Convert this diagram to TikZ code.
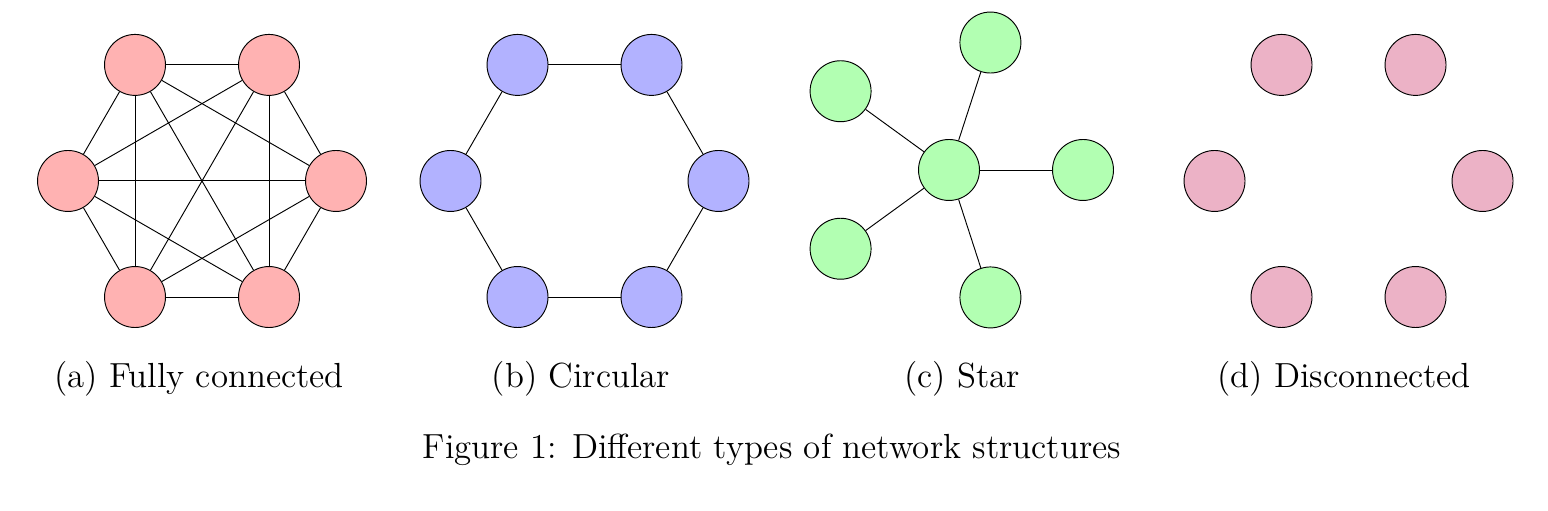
\documentclass[tikz,border=0pt]{standalone}
\usepackage{tikz}
\usetikzlibrary{positioning}
\tikzset{
    %Define style for graph vertices
    vertex/.style={
           circle,
           draw=black,
           minimum size=0.91cm,
           inner sep=0pt},
    %Define fill per network type
    fullv/.style={vertex, fill=red!30},
    ringv/.style={vertex, fill=blue!30},
    starv/.style={vertex, fill=green!30},
    lonev/.style={vertex, fill=purple!30},
    % Define style for links
    link/.style={draw=black},
    % Define style for captions
    caption/.style={anchor=base, font=\fontsize{14.8}{17}\selectfont}
}
\begin{document}
\begin{tikzpicture}
    \useasboundingbox (0,0) rectangle (23.104,-7.612);
    \coordinate (A) at (3.015,-2.701);
    \coordinate (B) at (8.724,-2.701);
    \coordinate (C) at (14.164,-2.537);
    \coordinate (D) at (20.127,-2.701);

    % (a) fully connected
    \node [fullv] (a1) at ([shift={(120:2)}]A) {};
    \node [fullv] (a2) at ([shift={(60:2)}]A) {};
    \node [fullv] (a3) at ([shift={(0:2)}]A) {};
    \node [fullv] (a4) at ([shift={(300:2)}]A) {};
    \node [fullv] (a5) at ([shift={(240:2)}]A) {};
    \node [fullv] (a6) at ([shift={(180:2)}]A) {};
    \path (a1) edge[link] (a2) edge[link] (a3) edge[link] (a4) edge[link] (a5) edge[link] (a6);
    \path (a2) edge[link] (a3) edge[link] (a4) edge[link] (a5) edge[link] (a6);
    \path (a3) edge[link] (a4) edge[link] (a5) edge[link] (a6);
    \path (a4) edge[link] (a5) edge[link] (a6);
    \path (a5) edge[link] (a6);

    % (b) circular
    \node [ringv] (b1) at ([shift={(120:2)}]B) {};
    \node [ringv] (b2) at ([shift={(60:2)}]B) {};
    \node [ringv] (b3) at ([shift={(0:2)}]B) {};
    \node [ringv] (b4) at ([shift={(300:2)}]B) {};
    \node [ringv] (b5) at ([shift={(240:2)}]B) {};
    \node [ringv] (b6) at ([shift={(180:2)}]B) {};
    \path (b1) edge[link] (b2);
    \path (b2) edge[link] (b3);
    \path (b3) edge[link] (b4);
    \path (b4) edge[link] (b5);
    \path (b5) edge[link] (b6);
    \path (b6) edge[link] (b1);

    % (c) star
    \node [starv] (hub) at (C) {};
    \node [starv] (c1) at ([shift={(0:2)}]C) {};
    \node [starv] (c2) at ([shift={(72:2)}]C) {};
    \node [starv] (c3) at ([shift={(144:2)}]C) {};
    \node [starv] (c4) at ([shift={(216:2)}]C) {};
    \node [starv] (c5) at ([shift={(288:2)}]C) {};
    \path (hub) edge[link] (c1) edge[link] (c2) edge[link] (c3) edge[link] (c4) edge[link] (c5);

    % (d) disconnected
    \node [lonev] (d1) at ([shift={(120:2)}]D) {};
    \node [lonev] (d2) at ([shift={(60:2)}]D) {};
    \node [lonev] (d3) at ([shift={(0:2)}]D) {};
    \node [lonev] (d4) at ([shift={(300:2)}]D) {};
    \node [lonev] (d5) at ([shift={(240:2)}]D) {};
    \node [lonev] (d6) at ([shift={(180:2)}]D) {};

    % captions
    \node [caption] (capa) at (2.97,-5.79) {(a) Fully connected};
    \node [caption] (capb) at (8.67,-5.79) {(b) Circular};
    \node [caption] (capc) at (14.36,-5.79) {(c) Star};
    \node [caption] (capd) at (20.06,-5.79) {(d) Disconnected};
    \node [caption] (fig) at (11.52,-6.84) {Figure 1: Different types of network structures};
\end{tikzpicture}
\end{document}
